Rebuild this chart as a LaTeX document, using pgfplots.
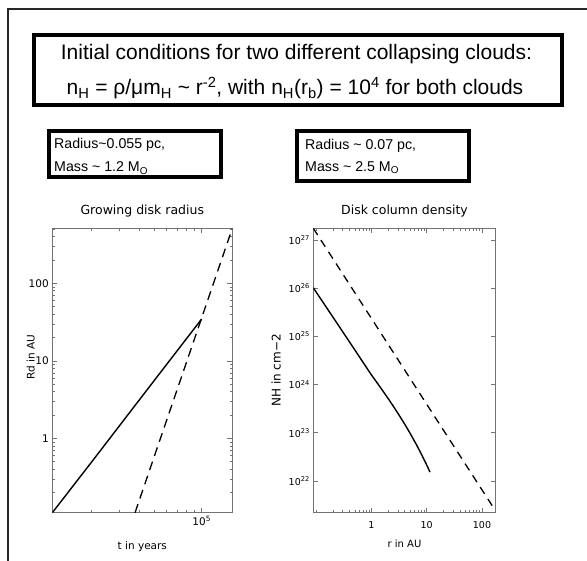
\documentclass[border=0pt]{standalone}
\usepackage{fontspec}
\setmainfont{Liberation Sans}
\newfontfamily\idl{DejaVu Sans}
\usepackage{pgfplots}
\pgfplotsset{compat=1.18}
\begin{document}
\begin{tikzpicture}
\useasboundingbox (0pt,0pt) rectangle (587pt,561pt);
% outer frame
\draw[line width=1.8pt, black!85] (8.3pt,-2pt) -- (8.3pt,551.7pt) -- (600pt,551.7pt);
\node[anchor=base, inner sep=0pt, font=\fontsize{21}{25}\selectfont] at (380pt,566.5pt) {g};
% main box
\draw[line width=4pt] (33.7pt,456pt) rectangle (562pt,525.7pt);
\node[anchor=base, inner sep=0pt, font=\fontsize{21}{25}\selectfont] at (296.5pt,501.7pt) {Initial conditions for two different collapsing clouds:};
\node[anchor=base, inner sep=0pt, font=\fontsize{21}{25}\selectfont] at (295pt,466pt) {n\textsubscript{H} = ρ/μm\textsubscript{H} \textasciitilde{} r\textsuperscript{-2}, with n\textsubscript{H}(r\textsubscript{b}) = 10\textsuperscript{4} for both clouds};
% small boxes
\draw[line width=4pt] (48.7pt,384pt) rectangle (221pt,430pt);
\node[anchor=base west, inner sep=0pt, font=\fontsize{14.2}{18}\selectfont] at (54pt,412pt) {Radius\textasciitilde 0.055 pc,};
\node[anchor=base west, inner sep=0pt, font=\fontsize{14.2}{18}\selectfont] at (54pt,389pt) {Mass \textasciitilde{} 1.2 M\textsubscript{O}};
\draw[line width=4pt] (297pt,379.7pt) rectangle (469pt,430pt);
\node[anchor=base west, inner sep=0pt, font=\fontsize{14.2}{18}\selectfont] at (305pt,411.7pt) {Radius \textasciitilde{} 0.07 pc,};
\node[anchor=base west, inner sep=0pt, font=\fontsize{14.2}{18}\selectfont] at (305pt,389.3pt) {Mass \textasciitilde{} 2.5 M\textsubscript{O}};

\pgfplotsset{idlaxis/.style={
  scale only axis, anchor=south west,
  axis line style={black!55, line width=0.9pt},
  tick style={black!55, line width=0.7pt},
  major tick length=5pt, minor tick length=2.5pt,
  title style={font=\idl\fontsize{12.5}{14}\selectfont, anchor=center},
}}

\begin{axis}[xmode=log, ymode=log, idlaxis,
  at={(52.3pt,48.3pt)}, width=180pt, height=284.4pt,
  xmin=11324, xmax=156300, ymin=0.11, ymax=513,
  xtick={1e5}, xticklabels={10\textsuperscript{5}},
  minor xtick={2e4,3e4,4e4,5e4,6e4,7e4,8e4,9e4},
  ytick={1,10,100}, yticklabels={1,10,100},
  minor ytick={0.2,0.3,0.4,0.5,0.6,0.7,0.8,0.9,2,3,4,5,6,7,8,9,20,30,40,50,60,70,80,90,200,300,400,500},
  tick label style={font=\idl\fontsize{10.5}{12}\selectfont},
  title={Growing disk radius},
  title style={at={(axis description cs:0.5,1.04)}},
  xlabel={t in years},
  xlabel style={font=\idl\fontsize{10.5}{12}\selectfont, at={(axis description cs:0.5,-0.119)}, anchor=center},
  ylabel={Rd in AU},
  ylabel style={font=\idl\fontsize{10.5}{12}\selectfont, at={(axis description cs:-0.12,0.546)}, anchor=center},
]
\addplot[black, line width=1.4pt] coordinates {(11324,0.11) (20000,0.49) (50000,5.56) (100000,34.7)};
\addplot[black, line width=1.3pt, dash pattern=on 9pt off 6pt] coordinates {(37840,0.11) (100000,35.9) (156300,513)};
\end{axis}

\begin{axis}[xmode=log, ymode=log, idlaxis,
  at={(313.3pt,48.3pt)}, width=182.4pt, height=284.4pt,
  xmin=0.0885, xmax=177, ymin=2.2e21, ymax=1.75e27,
  xtick={1,10,100}, xticklabels={1,10,100},
  minor xtick={0.1,0.2,0.3,0.4,0.5,0.6,0.7,0.8,0.9,2,3,4,5,6,7,8,9,20,30,40,50,60,70,80,90},
  ytick={1e22,1e23,1e24,1e25,1e26,1e27},
  yticklabels={10\textsuperscript{22},10\textsuperscript{23},10\textsuperscript{24},10\textsuperscript{25},10\textsuperscript{26},10\textsuperscript{27}},
  minor ytick={1e30},
  tick label style={font=\idl\fontsize{9.5}{11}\selectfont},
  xticklabel style={yshift=-5pt},
  title={Disk column density},
  title style={at={(axis description cs:0.5,1.041)}},
  xlabel={r in AU},
  xlabel style={font=\idl\fontsize{10}{12}\selectfont, at={(axis description cs:0.5,-0.110)}, anchor=center},
  ylabel={NH in cm−2},
  ylabel style={font=\idl\fontsize{12}{12}\selectfont, at={(axis description cs:-0.204,0.5)}, anchor=center},
]
\addplot[black, line width=1.4pt] coordinates {(0.0885,1.02e26) (0.3162,1.15e25) (1.0,1.58e24) (1.259,1.096e24) (1.585,7.55e23) (1.995,5.16e23) (2.512,3.49e23) (3.162,2.32e23) (3.981,1.52e23) (5.012,9.70e22) (6.310,6.05e22) (7.943,3.66e22) (10,2.14e22) (11.45,1.53e22)};
\addplot[black, line width=1.3pt, dash pattern=on 8pt off 6pt] coordinates {(0.0885,1.75e27) (1,2.35e25) (10,3.9e23) (171.8,2.5e21)};
\end{axis}
\end{tikzpicture}
\end{document}
